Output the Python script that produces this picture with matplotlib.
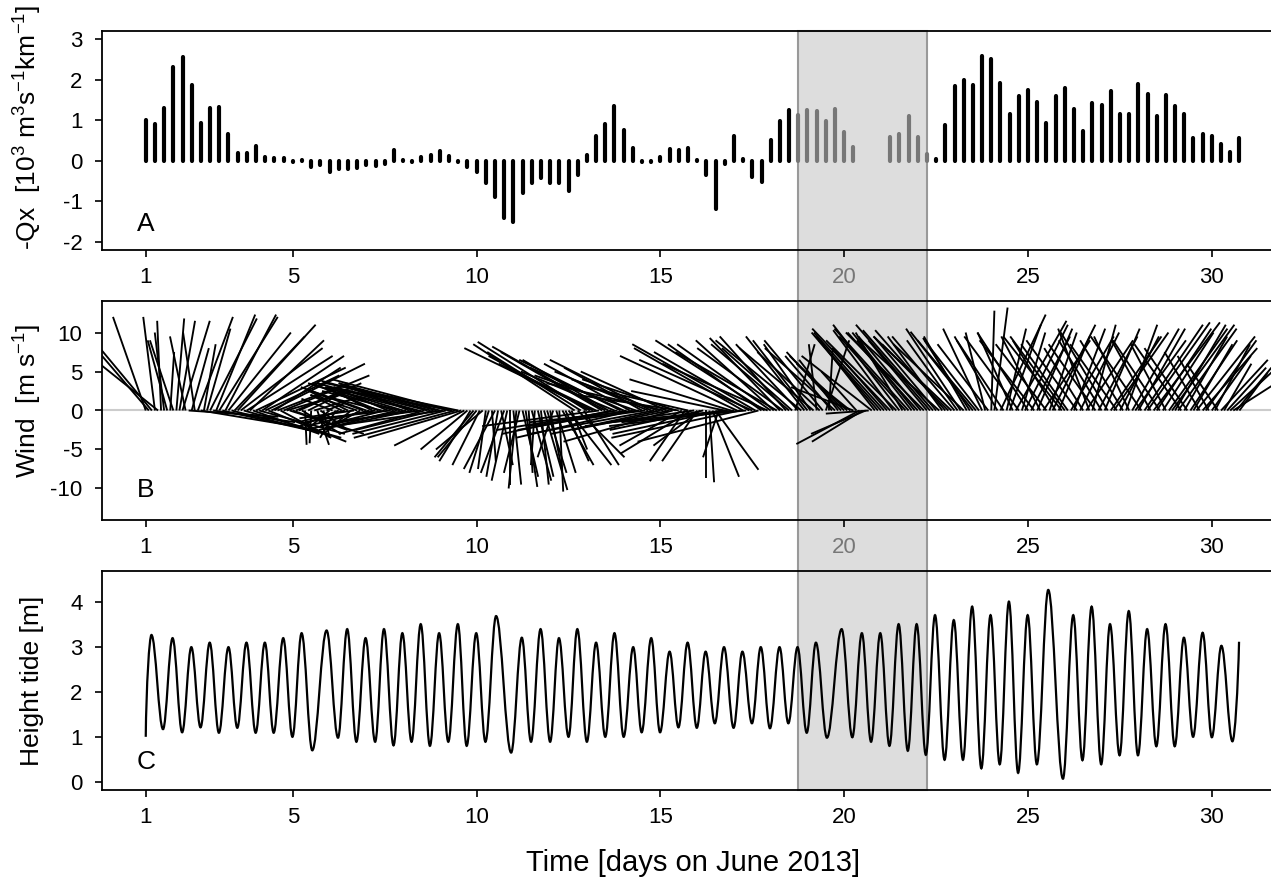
import numpy as np
import matplotlib.pyplot as plt
from matplotlib.patches import Rectangle, PathPatch
from matplotlib.path import Path
from matplotlib.collections import LineCollection

plt.rcParams['font.family'] = ['Liberation Sans', 'DejaVu Sans']
plt.rcParams['mathtext.fontset'] = 'custom'
plt.rcParams['mathtext.rm'] = 'Liberation Sans'
plt.rcParams['mathtext.it'] = 'Liberation Sans:italic'
plt.rcParams['axes.unicode_minus'] = False

# --- A: -Qx every 6 h (10^3 m3 s-1 km-1)
qx_days = np.arange(1, 30.76, 0.25)
qx = [1.00, 0.90, 1.30, 2.30,  2.55, 1.87, 0.92, 1.30,  1.32, 0.65, 0.18, 0.20,
      0.36, 0.10, 0.06, 0.06,  -0.03, 0.01, -0.16, -0.10,  -0.27, -0.20, -0.20, -0.17,
      -0.10, -0.13, -0.08, 0.26,  0.02, -0.02, 0.10, 0.15,  0.24, 0.12, -0.04, -0.15,
      -0.27, -0.54, -0.90, -1.42,  -1.50, -0.80, -0.56, -0.42,  -0.55, -0.55, -0.75, -0.34,
      0.14, 0.60, 0.90, 1.35,  0.77, 0.32, -0.02, -0.04,  0.10, 0.28, 0.26, 0.32,
      0.02, -0.34, -1.18, -0.08,  0.61, 0.05, -0.40, -0.52,  0.52, 0.98, 1.25, 1.13,
      1.25, 1.22, 0.97, 1.28,  0.70, 0.33, -0.01, np.nan,  np.nan, 0.58, 0.67, 1.11,
      0.58, 0.17, 0.05, 0.88,  1.85, 2.00, 1.86, 2.58,  2.50, 1.93, 1.16, 1.60,
      1.74, 1.45, 0.93, 1.60,  1.79, 1.27, 0.73, 1.42,  1.37, 1.71, 1.15, 1.15,
      1.90, 1.64, 1.10, 1.62,  1.34, 1.15, 0.55, 0.66,  0.60, 0.41, 0.22, 0.55]

# --- B: wind components every 2 h (m/s), one row per day
wind_days = np.arange(1, 30.76, 1 / 12)
wind_u = [-4.2, -9.0, -7.5, -1.5, -10.0, -0.5, -1.2, -2.5, 0.5, -3.0, 1.0, 2.0,
          3.5, -2.0, 11.5, 2.2, -1.5, 4.5, 12.0, 1.5, 3.0, 6.0, 10.5, 5.0,
          7.5, 11.0, 6.5, 8.0, 12.0, 9.0, 10.0, 10.5, 12.5, 11.0, 9.5, 8.5,
          11.5, 11.0, 10.5, 9.5, 10.0, 12.0, 8.5, 9.0, 6.5, 11.0, 8.5, 9.5,
          7.0, 6.0, 8.0, 5.0, 0.2, 4.0, -0.2, 5.0, 1.5, 3.5, 0.8, 2.5,
          -3.0, -4.0, -2.0, -5.0, -4.0, -6.0, -5.0, -3.5, -7.0, -6.0, -4.5, -8.0,
          -7.0, -8.0, -6.0, -9.0, -8.5, -8.0, -10.0, -7.0, -9.0, -11.0, -8.0, -10.0,
          -10.0, -11.0, -9.0, -12.0, -10.0, -13.0, -11.5, -11.0, -12.0, -14.0, -10.0, -12.0,
          -13.0, -14.0, -12.0, -15.0, -16.0, -13.0, -17.0, -12.0, -9.0, -6.0, -4.0, -5.0,
          -5.0, -3.5, -6.0, -1.0, -2.5, 0.5, -4.0, -1.5, 1.5, -3.0, -2.0, 0.0,
          1.0, -1.0, -2.0, 2.0, 1.5, 0.5, 2.5, -0.5, 2.0, 1.0, 3.0, 2.5,
          1.5, -2.0, 2.5, 0.5, 4.0, 3.0, 5.5, 2.0, -13.0, 6.0, -12.0, 4.5,
          -14.0, -13.0, -16.5, -12.5, -15.0, -13.0, -14.5, -11.0, -14.0, -12.0, -15.5, -13.0,
          -12.0, -14.0, -11.0, -15.0, -13.0, -14.0, -10.0, -15.0, -12.0, -13.0, -16.0, -11.0,
          -14.0, -15.0, -11.0, -12.5, -14.0, -12.0, -13.0, -8.0, -4.5, -13.0, -9.0, -14.0,
          -4.5, -6.0, -12.0, 0.0, 0.6, 3.4, 5.5, -2.0, -14.0, -12.0, -15.0, -13.0,
          -16.0, -15.0, -16.5, -14.0, -16.0, -15.0, -14.5, -13.0, -15.5, -12.0, -14.0, -13.5,
          -12.0, -10.0, -13.0, -9.0, -11.0, -8.5, -10.0, -9.0, 2.5, -8.0, -11.0, -7.5,
          -7.0, -6.0, -9.5, -1.0, -8.0, -7.5, 3.0, 0.5, -6.0, -9.0, -5.0, -7.0,
          -7.0, -6.5, -5.0, -8.0, -4.5, -8.1, -6.5, -7.0, -5.5, -9.0, -7.5, -8.5,
          -8.0, -9.0, -7.0, -10.0, -7.7, -9.0, -8.5, -6.0, -8.5, -9.5, -7.0, -8.0,
          -9.0, -8.0, -10.0, -7.5, -9.5, -9.0, -8.0, -10.0, -7.0, -9.0, -8.5, -10.0,
          -8.0, -6.5, -7.0, -9.0, -5.5, -6.0, -8.0, -7.5, -7.0, -5.0, -2.5, -6.5,
          0.4, 1.7, -5.5, 5.8, -6.0, 2.5, 4.0, -4.5, 6.5, -7.0, 3.0, 5.5,
          -6.5, 5.0, -7.0, 4.5, -5.0, 6.0, -6.5, 3.5, 5.5, -5.5, 4.0, -7.5,
          -7.0, -6.0, 5.5, 4.0, -6.5, 5.0, -5.0, 6.0, -4.0, 3.0, -6.0, 5.0,
          -5.5, 4.5, -6.0, 6.5, 7.0, -6.0, 5.0, -5.5, 4.0, -4.5, 6.0, 6.5,
          6.0, -6.5, 7.5, 8.0, -5.0, 8.5, 7.0, -6.0, 6.5, -4.5, 7.5, 8.0,
          6.5, 7.5, -6.0, 5.5, -5.5, 6.0, 5.0, 7.5, -4.5, 7.0, 6.5, -4.0,
          5.0, 4.5, -4.0, 6.0, 3.5, 5.0, 6.5, 7.5, 4.5, 3.6]
wind_v = [12.0, 10.5, 9.0, 12.0, 8.0, 11.5, 10.0, 9.0, 7.5, 9.0, 11.8, 11.5,
          11.5, 9.5, -0.8, 8.0, 10.0, 12.0, -2.0, 8.5, 10.5, 11.8, -1.5, 12.3,
          12.0, -2.5, 12.3, 10.0, -3.0, 9.5, 11.0, 8.0, -3.5, 7.0, 9.0, -3.0,
          5.5, -3.0, 7.0, 4.5, -4.0, 6.0, 5.5, 3.5, -3.5, 4.5, 2.5, -3.0,
          -2.5, 2.5, 3.5, -3.0, -4.4, 2.0, -4.2, 1.5, -4.4, -2.5, -3.5, 1.0,
          -2.5, 1.5, -3.5, -2.0, 2.0, -1.5, 2.5, -3.0, -1.0, 2.0, -2.5, 3.0,
          2.5, -2.0, 3.0, -1.5, 3.5, 2.0, -2.5, 3.0, -1.0, 3.5, -2.0, 2.5,
          3.0, -2.0, 3.5, -2.5, 2.5, 3.5, -1.5, -3.0, 3.0, 3.8, -2.5, 3.2,
          3.5, -2.0, -3.0, 4.0, 3.0, -3.5, 3.5, -3.5, -4.5, -5.0, -6.5, -6.0,
          -6.0, -7.0, -5.0, -7.5, -8.0, -6.5, -7.5, -8.5, -7.0, -8.0, -9.0, -9.5,
          -9.5, -10.0, -8.0, -8.5, -9.8, -8.0, -9.0, -7.0, -8.5, -9.5, -10.2, -8.0,
          -7.5, -6.0, -8.0, -10.4, -7.0, -6.5, -7.0, -5.0, 8.5, -6.0, 7.5, -7.0,
          8.8, 7.0, 8.0, 6.0, -2.0, 7.5, 8.2, 6.5, -3.0, 5.0, -2.5, 6.5,
          5.5, -2.5, 6.0, -3.5, 4.5, -1.5, 5.5, -2.0, 5.0, 6.5, -3.0, 4.0,
          -3.0, 3.5, 5.0, -2.5, -4.0, 4.0, 2.0, -4.5, -6.5, 3.0, -5.5, -2.0,
          -6.5, -4.5, -2.5, -8.7, -9.2, -8.5, -7.6, -6.0, -3.0, 2.5, -1.5, 4.0,
          -2.0, 7.0, -3.5, 8.0, -1.5, 8.5, 6.5, 7.5, -4.0, 8.5, 9.0, 6.0,
          8.5, 9.0, 7.5, 9.3, 8.0, 9.5, 8.5, 8.0, 8.5, 8.5, 9.0, 9.5,
          9.0, 8.5, 8.0, 8.5, 7.5, 9.0, 9.0, 8.0, 7.0, 8.0, 6.5, 7.5,
          7.0, 6.0, 4.0, 3.0, 5.0, -4.3, -4.0, -3.0, -0.4, 7.0, 9.5, 10.0,
          9.0, 10.0, 8.0, 10.5, 10.3, 9.0, 11.0, 10.0, 9.5, 10.5, 9.0, 10.0,
          10.0, 9.5, 10.0, 9.0, 11.0, 10.3, 9.5, 9.0, 9.5, 10.3, 8.5, 9.5,
          9.5, 9.0, 10.5, 8.5, 9.5, 9.3, 10.1, 9.0, 9.0, 10.5, 10.0, 8.5,
          12.8, 13.2, 9.5, 12.3, 9.0, 10.5, 11.0, 10.0, 11.5, 9.5, 10.0, 11.0,
          10.0, 9.5, 9.0, 10.5, 9.5, 9.0, 8.5, 10.0, 11.0, 9.0, 9.5, 9.5,
          9.5, 8.5, 9.5, 10.5, 9.0, 10.0, 8.0, 9.0, 10.5, 11.0, 8.5, 9.5,
          9.0, 10.5, 10.0, 9.5, 10.0, 8.5, 9.5, 9.0, 11.0, 9.5, 10.5, 9.0,
          10.5, 9.5, 11.0, 11.3, 9.0, 11.3, 10.5, 9.0, 10.0, 8.5, 10.5, 11.0,
          11.0, 10.5, 8.5, 9.5, 8.0, 9.0, 8.5, 9.5, 7.5, 8.0, 9.0, 7.0,
          7.0, 8.5, 6.0, 6.5, 6.0, 5.5, 6.0, 4.8, 5.5, 4.8]

# --- C: tide, successive high / low waters (m); first and last are the record ends
tide_days = [1.00, 1.155, 1.47, 1.73, 1.99, 2.24, 2.49, 2.74, 2.99, 3.25, 3.49, 3.74,
             3.99, 4.24, 4.48, 4.74, 4.99, 5.24, 5.53, 5.92, 6.23, 6.48, 6.73, 6.98,
             7.24, 7.48, 7.74, 7.98, 8.23, 8.48, 8.73, 8.98, 9.23, 9.49, 9.73, 9.99,
             10.24, 10.53, 10.94, 11.23, 11.48, 11.74, 12.00, 12.24, 12.50, 12.74, 13.00,
             13.25, 13.50, 13.75, 14.00, 14.26, 14.49, 14.75, 14.99, 15.25, 15.49, 15.74,
             15.99, 16.23, 16.48, 16.73, 16.99, 17.23, 17.49, 17.73, 17.98, 18.24, 18.48,
             18.73, 18.98, 19.23, 19.53, 19.93, 20.22, 20.48, 20.73, 20.98, 21.23, 21.48,
             21.73, 21.97, 22.22, 22.47, 22.73, 22.98, 23.23, 23.48, 23.73, 23.98, 24.23,
             24.48, 24.73, 24.99, 25.24, 25.55, 25.95, 26.23, 26.48, 26.73, 26.99, 27.23,
             27.49, 27.74, 27.99, 28.24, 28.49, 28.74, 28.99, 29.24, 29.49, 29.75, 30.00,
             30.26, 30.56, 30.74]
tide_h = [1.00, 3.26, 1.17, 3.19, 1.10, 2.99, 1.21, 3.09, 1.09, 2.99, 1.20, 3.09,
          1.09, 3.09, 1.09, 3.19, 1.00, 3.30, 0.70, 3.36, 0.98, 3.39, 0.89, 3.19,
          0.89, 3.39, 0.81, 3.30, 0.89, 3.50, 0.80, 3.30, 0.89, 3.50, 0.80, 3.30,
          0.89, 3.68, 0.65, 3.20, 0.89, 3.39, 0.89, 3.19, 1.00, 3.39, 0.89,
          3.09, 1.00, 3.30, 1.00, 2.99, 1.10, 3.19, 1.10, 2.89, 1.21, 3.09,
          1.20, 2.89, 1.30, 2.99, 1.20, 2.89, 1.30, 2.99, 1.19, 2.99, 1.30,
          2.99, 1.09, 3.09, 0.98, 3.39, 0.99, 3.30, 0.89, 3.30, 0.80, 3.50,
          0.69, 3.50, 0.60, 3.70, 0.49, 3.59, 0.49, 3.89, 0.30, 3.70, 0.39,
          4.00, 0.20, 3.70, 0.39, 4.26, 0.07, 3.70, 0.48, 3.89, 0.39, 3.50,
          0.59, 3.79, 0.59, 3.39, 0.79, 3.50, 0.79, 3.20, 1.00, 3.31, 0.99,
          3.02, 0.90, 3.11]

shade_start, shade_end = 18.75, 22.25
xticks = [1, 5, 10, 15, 20, 25, 30]
xlim = (-0.19, 31.99)

W, H = 1271, 880
fig = plt.figure(figsize=(W / 100, H / 100), dpi=100)
left, width, hgt = 102 / W, 1183 / W, 219 / H
ax_a = fig.add_axes([left, 1 - 250 / H, width, hgt])
ax_b = fig.add_axes([left, 1 - 520 / H, width, hgt])
ax_c = fig.add_axes([left, 1 - 790 / H, width, hgt])

grey_txt = '#777777'
for ax in (ax_a, ax_b, ax_c):
    ax.set_facecolor('none')
    ax.set_xlim(*xlim)
    ax.set_xticks(xticks, labels=[str(t) for t in xticks])
    ax.tick_params(direction='out', length=5, width=1.2, labelsize=16, pad=7)
    ax.tick_params(axis='y', pad=9)
    for s in ax.spines.values():
        s.set_linewidth(1.3)

# panel A
ax_a.set_ylim(-2.2, 3.2)
ax_a.set_yticks(range(-2, 4))
qx_arr = np.array(qx)
in_shade = (qx_days >= shade_start) & (qx_days <= shade_end)
ok = ~np.isnan(qx_arr)
ax_a.vlines(qx_days[ok & ~in_shade], 0, qx_arr[ok & ~in_shade], color='black',
            linewidth=3.0, capstyle='round')
ax_a.vlines(qx_days[ok & in_shade], 0, qx_arr[ok & in_shade], color=grey_txt,
            linewidth=3.0, capstyle='round')
ax_a.set_ylabel(r'-Qx  [10$^3$ m$^3$s$^{-1}$km$^{-1}$]', fontsize=19)
ax_a.text(1, -1.55, 'A', fontsize=19, ha='center', va='center')

# panel B, stick plot drawn with equal scale on both axes
ax_b.set_ylim(-14.04, 14.04)
ax_b.set_yticks([-10, -5, 0, 5, 10])
px_per_ms = hgt * H / (14.04 * 2)
px_per_day = width * W / (xlim[1] - xlim[0])
k = px_per_ms / px_per_day
ax_b.axhline(0, color='#CCCCCC', lw=1.5, zorder=1)
segs = [[(t, 0), (t + u * k, v)] for t, u, v in zip(wind_days, wind_u, wind_v)]
ax_b.add_collection(LineCollection(segs, colors='black', linewidths=1.35, zorder=2))
ax_b.set_ylabel(r'Wind  [m s$^{-1}$]', fontsize=19)
ax_b.text(1, -10.2, 'B', fontsize=19, ha='center', va='center')

# panel C, tide curve through the extremes (cubic Bezier, flat at each extreme)
ax_c.set_ylim(-0.18, 4.68)
ax_c.set_yticks(range(0, 5))
kb = 0.364
verts = [(tide_days[0], tide_h[0])]
codes = [Path.MOVETO]
n = len(tide_days)
for i in range(n - 1):
    t0, h0, t1, h1 = tide_days[i], tide_h[i], tide_days[i + 1], tide_h[i + 1]
    dt = t1 - t0
    c1 = (t0 + kb * dt, h0)
    c2 = (t1 - kb * dt, h1)
    if i == 0:
        c1 = (t0 + 0.1 * dt, h0 + 0.5 * (h1 - h0))
    if i == n - 2:
        c2 = (t1 - 0.15 * dt, h1 - 0.45 * (h1 - h0))
    verts += [c1, c2, (t1, h1)]
    codes += [Path.CURVE4] * 3
ax_c.add_patch(PathPatch(Path(verts, codes), facecolor='none', edgecolor='black', lw=1.6))
ax_c.set_ylabel('Height tide [m]', fontsize=19)
ax_c.text(1, 0.44, 'C', fontsize=19, ha='center', va='center')
ax_c.set_xlabel('Time [days on June 2013]', fontsize=21)
ax_c.xaxis.set_label_coords(0.5, (790 - 849) / 219)

ax_a.yaxis.set_label_coords(-0.049, (250 - 127) / 219)
ax_b.yaxis.set_label_coords(-0.049, (520 - 401) / 219)
ax_c.yaxis.set_label_coords(-0.049, 0.5)

for ax in (ax_a, ax_b):
    for lab in ax.get_xticklabels():
        if lab.get_text() == '20':
            lab.set_color(grey_txt)

# shaded period across all panels
x0 = ax_c.transData.transform((shade_start, 0))[0] / W
x1 = ax_c.transData.transform((shade_end, 0))[0] / W
y_bot = 1 - 790 / H
y_top = 1 - 31 / H
fig.add_artist(Rectangle((x0, y_bot), x1 - x0, y_top - y_bot, transform=fig.transFigure,
                         facecolor='#DDDDDD', edgecolor='#999999', lw=1.5, zorder=-1))

fig.savefig('out.png', dpi=100)
